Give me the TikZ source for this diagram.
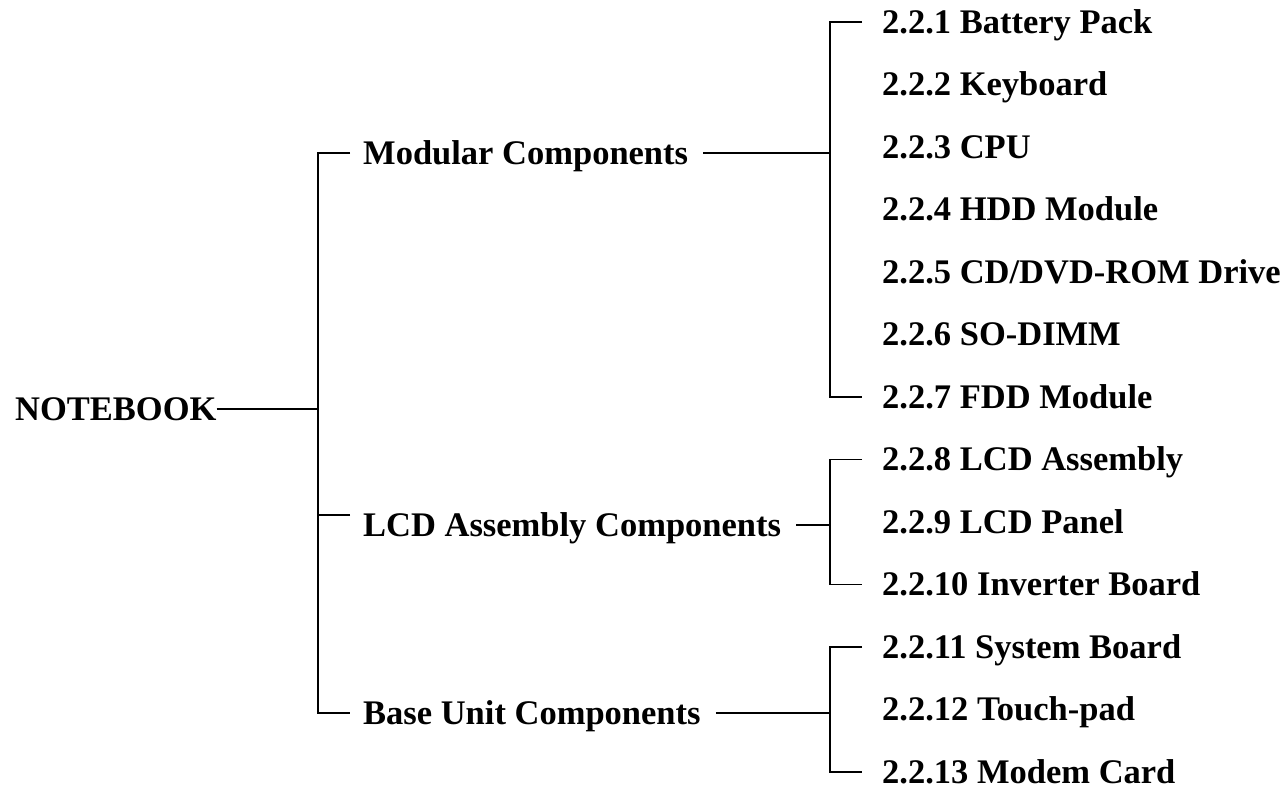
\documentclass[tikz,border=0pt]{standalone}
\usepackage{fontspec}
\setmainfont{Liberation Serif}
\usetikzlibrary{positioning}

\tikzset{
  label/.style={font=\fontsize{34.5}{40}\bfseries, inner sep=0pt,
                text height=22pt, text depth=0pt, anchor=base west},
  link/.style={line width=1.2pt}
}

\begin{document}
\begin{tikzpicture}[x=1pt, y=-1pt]
    \useasboundingbox (0,0) rectangle (1285,788);
    \coordinate (trunk) at (318,0);
    \coordinate (spine) at (830,0);

    % Root and groups
    \node[label] (nb) at (15,420) {NOTEBOOK};
    \node[label] (mod) at (363,164) {Modular Components};
    \node[label] (lcd) at (363,536) {LCD Assembly Components};
    \node[label] (base) at (363,724) {Base Unit Components};

    % Items
    \foreach \i/\txt in {1/Battery Pack, 2/Keyboard, 3/CPU, 4/HDD Module,
        5/CD\slash DVD-ROM Drive, 6/SO-DIMM, 7/FDD Module, 8/LCD Assembly,
        9/LCD Panel, 10/Inverter Board, 11/System Board, 12/Touch-pad,
        13/Modem Card} {
        \node[label] (c\i) at (882,{33+62.5*(\i-1)}) {2.2.\i\ \txt};
    }

    % Root to groups
    \draw[link] (nb.east) -- (nb.east -| trunk);
    \draw[link] ([xshift=-13pt]mod.west) -- (mod.west -| trunk)
        -- (base.west -| trunk) -- ([xshift=-13pt]base.west);
    \draw[link] ([xshift=-13pt, yshift=10pt]lcd.west) -- ([yshift=10pt]lcd.west -| trunk);

    % Groups to items
    \draw[link] ([xshift=15pt]mod.east) -- (mod.east -| spine);
    \draw[link] ([xshift=-20pt]c1.west) -- (c1.west -| spine)
        -- (c7.west -| spine) -- ([xshift=-20pt]c7.west);
    \draw[link] ([xshift=15pt]lcd.east) -- (lcd.east -| spine);
    \draw[link] ([xshift=-20pt]c8.west) -- (c8.west -| spine)
        -- (c10.west -| spine) -- ([xshift=-20pt]c10.west);
    \draw[link] ([xshift=15pt]base.east) -- (base.east -| spine);
    \draw[link] ([xshift=-20pt]c11.west) -- (c11.west -| spine)
        -- (c13.west -| spine) -- ([xshift=-20pt]c13.west);
\end{tikzpicture}
\end{document}
